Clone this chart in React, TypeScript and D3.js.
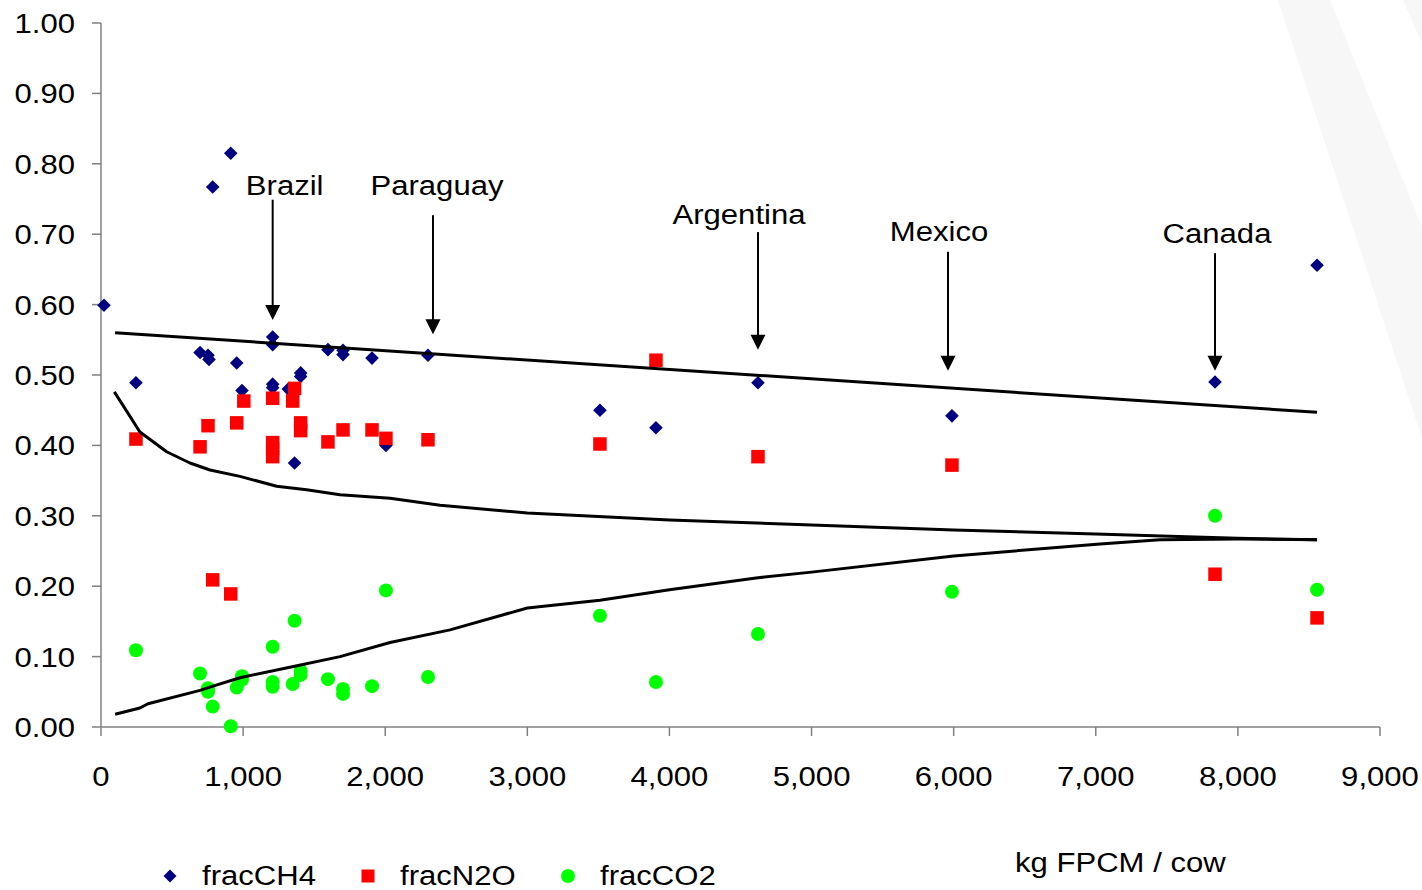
import React from "react";
import * as d3 from "d3";

// ---- data ----
const ch4Points: [number, number][] = [
  [21, 0.599], [246, 0.489], [697, 0.532], [753, 0.528], [760, 0.522], [786, 0.767],
  [913, 0.815], [955, 0.517], [992, 0.478], [1208, 0.554], [1208, 0.543], [1208, 0.487],
  [1208, 0.482], [1318, 0.48], [1362, 0.375], [1405, 0.503], [1405, 0.498], [1597, 0.536],
  [1703, 0.535], [1703, 0.529], [1907, 0.524], [2005, 0.4], [2301, 0.528], [3511, 0.45],
  [3905, 0.425], [4623, 0.489], [5988, 0.442], [7839, 0.49], [8557, 0.656],
];
const n2oPoints: [number, number][] = [
  [246, 0.409], [697, 0.398], [753, 0.428], [786, 0.209], [913, 0.189], [955, 0.432],
  [1005, 0.463], [1208, 0.467], [1208, 0.404], [1208, 0.395], [1208, 0.384], [1349, 0.463],
  [1362, 0.481], [1405, 0.432], [1405, 0.421], [1597, 0.405], [1703, 0.422], [1907, 0.422],
  [2005, 0.41], [2301, 0.408], [3511, 0.402], [3905, 0.521], [4623, 0.384], [5988, 0.372],
  [7839, 0.217], [8557, 0.155],
];
const co2Points: [number, number][] = [
  [246, 0.109], [697, 0.076], [753, 0.055], [753, 0.05], [786, 0.029], [913, 0.001],
  [955, 0.056], [992, 0.072], [992, 0.067], [1208, 0.114], [1208, 0.064], [1208, 0.057],
  [1349, 0.061], [1362, 0.151], [1405, 0.08], [1405, 0.074], [1597, 0.068], [1703, 0.054],
  [1703, 0.047], [1907, 0.058], [2005, 0.194], [2301, 0.071], [3511, 0.158], [3905, 0.064],
  [4623, 0.132], [5988, 0.192], [7839, 0.3], [8557, 0.195],
];
const trendCH4: [number, number][] = [[99, 0.56], [8557, 0.447]];
const trendN2O: [number, number][] = [
  [94, 0.476], [274, 0.419], [462, 0.391], [626, 0.375], [767, 0.365], [978, 0.356],
  [1236, 0.342], [1447, 0.337], [1682, 0.33], [2034, 0.325], [2386, 0.315], [3000, 0.304],
  [4000, 0.294], [5000, 0.287], [6000, 0.28], [7000, 0.274], [7700, 0.27], [8000, 0.268],
  [8557, 0.266],
];
const trendCO2: [number, number][] = [
  [99, 0.018], [274, 0.027], [331, 0.033], [697, 0.052], [788, 0.058], [978, 0.07],
  [1329, 0.085], [1682, 0.1], [2034, 0.12], [2456, 0.138], [3000, 0.169], [3511, 0.18],
  [4000, 0.195], [4623, 0.212], [5000, 0.22], [6000, 0.243], [7030, 0.26], [7452, 0.266],
  [8000, 0.267], [8557, 0.266],
];
const xTicks = [0, 1000, 2000, 3000, 4000, 5000, 6000, 7000, 8000, 9000];
const yTicks = [0, 0.1, 0.2, 0.3, 0.4, 0.5, 0.6, 0.7, 0.8, 0.9, 1.0];
const annotNames = ["Brazil", "Paraguay", "Argentina", "Mexico", "Canada"];
const annotX = [1208, 2336, 4623, 5960, 7839];
const annotTop = [0.749, 0.727, 0.703, 0.675, 0.673];
const annotTip = [0.578, 0.558, 0.536, 0.506, 0.506];
const annotLabelDx = [12, 4, -19, -9, 2];
const annotLabelY = [0.756, 0.756, 0.714, 0.691, 0.687];
const legendNames = ["fracCH4", "fracN2O", "fracCO2"];

const COL_CH4 = "#000080";
const COL_N2O = "#ff0000";
const COL_CO2 = "#00ff00";
const FONT = "Arial, 'Liberation Sans', sans-serif";
const SX = 1.11;

function SText({ x, y, anchor = "start", size = 28, children }: any) {
  return (
    <text
      transform={`translate(${x},${y}) scale(${SX},1)`}
      textAnchor={anchor}
      fontSize={size}
      fontFamily={FONT}
      fill="#000"
    >
      {children}
    </text>
  );
}

function Diamond({ cx, cy, r = 6.8 }: any) {
  return <path d={`M${cx},${cy - r}L${cx + r},${cy}L${cx},${cy + r}L${cx - r},${cy}Z`} fill={COL_CH4} />;
}
function Square({ cx, cy, s = 13.5 }: any) {
  return <rect x={cx - s / 2} y={cy - s / 2} width={s} height={s} fill={COL_N2O} />;
}
function Dot({ cx, cy, r = 7 }: any) {
  return <circle cx={cx} cy={cy} r={r} fill={COL_CO2} />;
}

export default function App() {
  const x = d3.scaleLinear().domain([0, 9000]).range([101, 1380]);
  const y = d3.scaleLinear().domain([0, 1]).range([727, 23]);
  const line = d3
    .line<[number, number]>()
    .x((d) => x(d[0]))
    .y((d) => y(d[1]));
  const axisCol = "#808080";

  return (
    <svg
      width={1422}
      height={890}
      style={{ position: "absolute", left: 0, top: 0, background: "#fff" }}
    >
      {/* faint background watermark */}
      <polygon points="1278,0 1330,0 1422,227 1422,438" fill="#f7f7f7" />
      <polygon points="1403,0 1422,0 1422,43" fill="#f7f7f7" />

      {/* axes */}
      <line x1={x(0)} x2={x(0)} y1={y(1)} y2={y(0)} stroke={axisCol} strokeWidth={1.5} />
      <line x1={x(0)} x2={x(9000)} y1={y(0)} y2={y(0)} stroke={axisCol} strokeWidth={1.5} />
      {yTicks.map((t) => (
        <g key={"y" + t}>
          <line x1={x(0) - 9} x2={x(0)} y1={y(t)} y2={y(t)} stroke={axisCol} strokeWidth={1.5} />
          <SText x={75} y={y(t) + 10} anchor="end">
            {d3.format(".2f")(t)}
          </SText>
        </g>
      ))}
      {xTicks.map((t) => (
        <g key={"x" + t}>
          <line x1={x(t)} x2={x(t)} y1={y(0)} y2={y(0) + 9} stroke={axisCol} strokeWidth={1.5} />
          <SText x={x(t)} y={786} anchor="middle">
            {d3.format(",")(t)}
          </SText>
        </g>
      ))}

      {/* markers */}
      {ch4Points.map((d, i) => (
        <Diamond key={"c" + i} cx={x(d[0])} cy={y(d[1])} />
      ))}
      {n2oPoints.map((d, i) => (
        <Square key={"n" + i} cx={x(d[0])} cy={y(d[1])} />
      ))}
      {co2Points.map((d, i) => (
        <Dot key={"o" + i} cx={x(d[0])} cy={y(d[1])} />
      ))}

      {/* trend lines */}
      {[trendCH4, trendN2O, trendCO2].map((tr, i) => (
        <path key={"t" + i} d={line(tr) || ""} fill="none" stroke="#000" strokeWidth={3} strokeLinejoin="round" />
      ))}

      {/* annotations */}
      {annotNames.map((name, i) => {
        const ax = x(annotX[i]);
        const ty = y(annotTop[i]);
        const tip = y(annotTip[i]);
        return (
          <g key={name}>
            <line x1={ax} x2={ax} y1={ty} y2={tip - 14} stroke="#000" strokeWidth={2} />
            <path d={`M${ax - 7.5},${tip - 15}L${ax + 7.5},${tip - 15}L${ax},${tip}Z`} fill="#000" />
            <SText x={ax + annotLabelDx[i]} y={y(annotLabelY[i])} anchor="middle">
              {name}
            </SText>
          </g>
        );
      })}

      {/* legend */}
      <Diamond cx={170} cy={876} r={6.5} />
      <SText x={202} y={885}>{legendNames[0]}</SText>
      <Square cx={368} cy={876} s={13} />
      <SText x={400} y={885}>{legendNames[1]}</SText>
      <Dot cx={568} cy={876} r={7} />
      <SText x={600} y={885}>{legendNames[2]}</SText>

      {/* axis title */}
      <SText x={1015} y={872}>kg FPCM / cow</SText>
    </svg>
  );
}
